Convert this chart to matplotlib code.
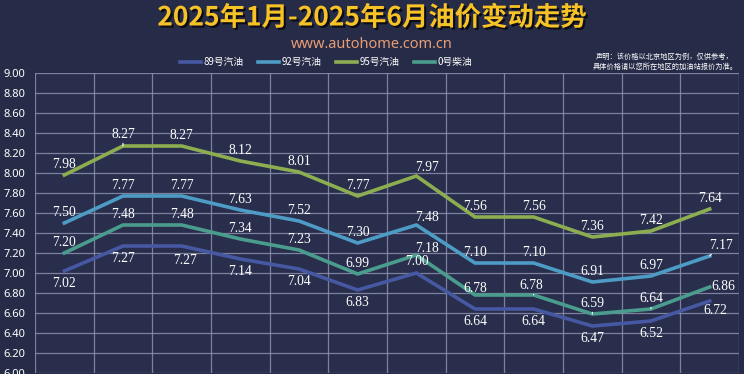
import matplotlib
matplotlib.use("Agg")
import matplotlib.pyplot as plt
import matplotlib.patheffects as pe
import numpy as np

plt.rcParams['font.family'] = ['Noto Sans CJK SC', 'DejaVu Sans']

# data: 12 price adjustments, Jan - Jun 2025
periods = list(range(12))
series_names = ['89号汽油', '92号汽油', '95号汽油', '0号柴油']
p89 = [7.02, 7.27, 7.27, 7.14, 7.04, 6.83, 7.00, 6.64, 6.64, 6.47, 6.52, 6.72]
p92 = [7.50, 7.77, 7.77, 7.63, 7.52, 7.30, 7.48, 7.10, 7.10, 6.91, 6.97, 7.17]
p95 = [7.98, 8.27, 8.27, 8.12, 8.01, 7.77, 7.97, 7.56, 7.56, 7.36, 7.42, 7.64]
p0 = [7.20, 7.48, 7.48, 7.34, 7.23, 6.99, 7.18, 6.78, 6.78, 6.59, 6.64, 6.86]
yticks = np.arange(6.0, 9.01, 0.2)

bg = '#262b47'
colors = {'89号汽油': '#4658a2', '92号汽油': '#4d9cc6', '95号汽油': '#8cae50', '0号柴油': '#4a9d8c'}
values = {'89号汽油': p89, '92号汽油': p92, '95号汽油': p95, '0号柴油': p0}

fig = plt.figure(figsize=(7.44, 3.74), dpi=100, facecolor=bg)
ax = fig.add_axes([35/744, 1/374, 704/744, 300/374])
ax.set_facecolor('#282e4c')

for name in series_names:
    ax.plot(periods, values[name], color=colors[name], lw=2.6, label=name,
            solid_joinstyle='miter', zorder=3)

# label offsets in pixels (dx, dy); leader lines for a few
default_dy = {'89号汽油': -12, '92号汽油': 11, '95号汽油': 11, '0号柴油': 11}
special = {
    ('95号汽油', 1): (0, 12, True),
    ('95号汽油', 6): (11, 9, False),
    ('92号汽油', 6): (11, 8, False),
    ('92号汽油', 11): (11, 11, True),
    ('0号柴油', 6): (11, 7, False),
    ('0号柴油', 7): (0, 7, False),
    ('0号柴油', 8): (-2, 10, True),
    ('0号柴油', 9): (0, 11, True),
    ('0号柴油', 10): (0, 11, True),
    ('0号柴油', 11): (14, 1, False),
    ('89号汽油', 2): (3, -14, False),
    ('89号汽油', 6): (1, 12, False),
    ('89号汽油', 11): (6, -9, False),
}
for name in series_names:
    for i, v in enumerate(values[name]):
        dx, dy, lead = special.get((name, i), (0, default_dy[name], False))
        kw = {}
        if lead:
            kw['arrowprops'] = dict(arrowstyle='-', color='white', lw=0.8,
                                    shrinkA=0, shrinkB=2)
        ax.annotate(f'{v:.2f}', (i, v), xytext=(dx, dy), textcoords='offset pixels',
                    ha='center', va='center', color='white', fontsize=9.8,
                    family='Liberation Serif', zorder=5, **kw)

ax.set_xlim(-0.5, 11.5)
ax.set_ylim(6.0, 9.0)
ax.set_yticks(yticks)
ax.set_yticklabels([f'{t:.2f}' for t in yticks], family='Noto Sans', fontsize=8, color='white')
ax.set_xticks(np.arange(-0.5, 12, 1))
ax.set_xticklabels([])
ax.tick_params(length=0, pad=7)
ax.grid(True, color='#8c91ad', lw=0.9, alpha=0.85, zorder=1)
for s in ax.spines.values():
    s.set_visible(False)

fig.text(0.5, 1 - 18/374, '2025年1月-2025年6月油价变动走势', ha='center', va='center',
         fontsize=19, fontweight='bold', color='#f6c226',
         path_effects=[pe.withSimplePatchShadow(offset=(1.5, -1.5), shadow_rgbFace='black', alpha=0.7)])
fig.text(0.5, 1 - 44/374, 'www.autohome.com.cn', ha='center', va='center',
         fontsize=10.5, color='#e89d74', family='Noto Sans')
fig.text(665/744, 1 - 57/374, '声明：该价格以北京地区为例，仅供参考，', ha='center', va='center',
         fontsize=5.2, color='white')
fig.text(665/744, 1 - 67/374, '具体价格请以您所在地区的加油站报价为准。', ha='center', va='center',
         fontsize=5.2, color='white')

leg = fig.legend(loc='center', bbox_to_anchor=(326/744, 1 - 62/374), ncol=4, frameon=False,
                 fontsize=7, handlelength=2.2, handletextpad=0.2, columnspacing=1.5)
for t in leg.get_texts():
    t.set_color('white')

fig.savefig('out.png', dpi=100, facecolor=bg)
